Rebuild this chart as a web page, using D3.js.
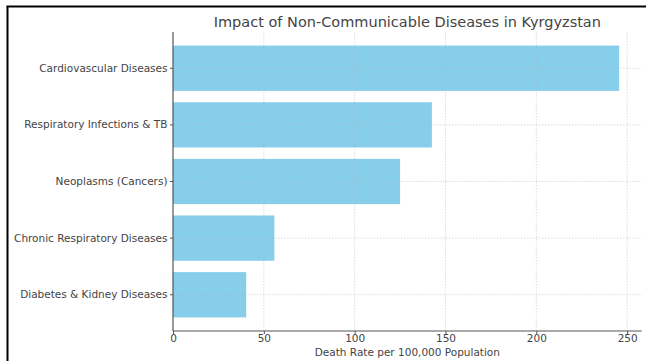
<!DOCTYPE html>
<html><head><meta charset="utf-8">
<script src="https://cdn.jsdelivr.net/npm/d3@7"></script>
<style>body{margin:0;background:#fff}svg{display:block}text{font-family:"DejaVu Sans",sans-serif}</style>
</head><body>
<svg id="c" width="646" height="361"></svg>
<script>
const categories = ["Cardiovascular Diseases","Respiratory Infections & TB","Neoplasms (Cancers)","Chronic Respiratory Diseases","Diabetes & Kidney Diseases"];
const values = [245.6, 142.5, 125, 55.8, 40.3];
const xTicks = [0, 50, 100, 150, 200, 250];
const title = "Impact of Non-Communicable Diseases in Kyrgyzstan";
const xLabel = "Death Rate per 100,000 Population";

const svg = d3.select("#c");
const L = 173, R = 641.7, T = 32, B = 331;
svg.append("line").attr("x1",7.5).attr("x2",7.5).attr("y1",6.5).attr("y2",361).attr("stroke","#000").attr("stroke-width",2);
svg.append("line").attr("x1",6.5).attr("x2",646).attr("y1",6.5).attr("y2",6.5).attr("stroke","#000").attr("stroke-width",2);

const x = d3.scaleLinear().domain([0, 258]).range([L, R]);
const step = (B - T) / 5.28;
const y = d3.scaleBand().domain(categories).range([T + 0.14*step, B - 0.14*step]).paddingInner(0.2).paddingOuter(0.1);
const yc = d => y(d) + y.bandwidth()/2;

svg.append("g").selectAll("rect").data(categories).join("rect")
  .attr("x", x(0)).attr("y", d => y(d))
  .attr("width", (d,i) => x(values[i]) - x(0)).attr("height", y.bandwidth())
  .attr("fill", "#87CEEB");

const grid = svg.append("g").attr("stroke","#b0b0b0").attr("stroke-width",0.8).attr("stroke-dasharray","1.5,1.5").attr("opacity",0.55);
grid.selectAll(".vx").data(xTicks.slice(1)).join("line").attr("x1",d=>x(d)).attr("x2",d=>x(d)).attr("y1",T).attr("y2",B);
grid.selectAll(".hy").data(categories).join("line").attr("x1",L).attr("x2",R).attr("y1",d=>yc(d)).attr("y2",d=>yc(d));

const xAxis = svg.append("g").attr("transform",`translate(0,${B})`)
  .call(d3.axisBottom(x).tickValues(xTicks).tickSize(3).tickPadding(1.5));
const yAxis = svg.append("g").attr("transform",`translate(${L},0)`)
  .call(d3.axisLeft(y).tickSize(3).tickPadding(2.5));
[xAxis, yAxis].forEach(a => {
  a.selectAll("path.domain").attr("stroke","#555").attr("stroke-width",1.2);
  a.selectAll(".tick line").attr("stroke","#555");
  a.selectAll("text").attr("font-size",10.5).attr("fill","#444").attr("font-family","DejaVu Sans");
});
xAxis.selectAll("text").attr("dy","0.62em");
xAxis.select("path.domain").attr("d", `M${L},0H${R}`);
yAxis.select("path.domain").attr("d", `M0,${T}V${B}`);

svg.append("text").attr("x",(L+R)/2).attr("y",27).attr("text-anchor","middle")
  .attr("font-size",14.5).attr("fill","#444").text(title);
svg.append("text").attr("x",(L+R)/2).attr("y",356).attr("text-anchor","middle")
  .attr("font-size",10.5).attr("fill","#444").text(xLabel);
</script>
</body></html>
